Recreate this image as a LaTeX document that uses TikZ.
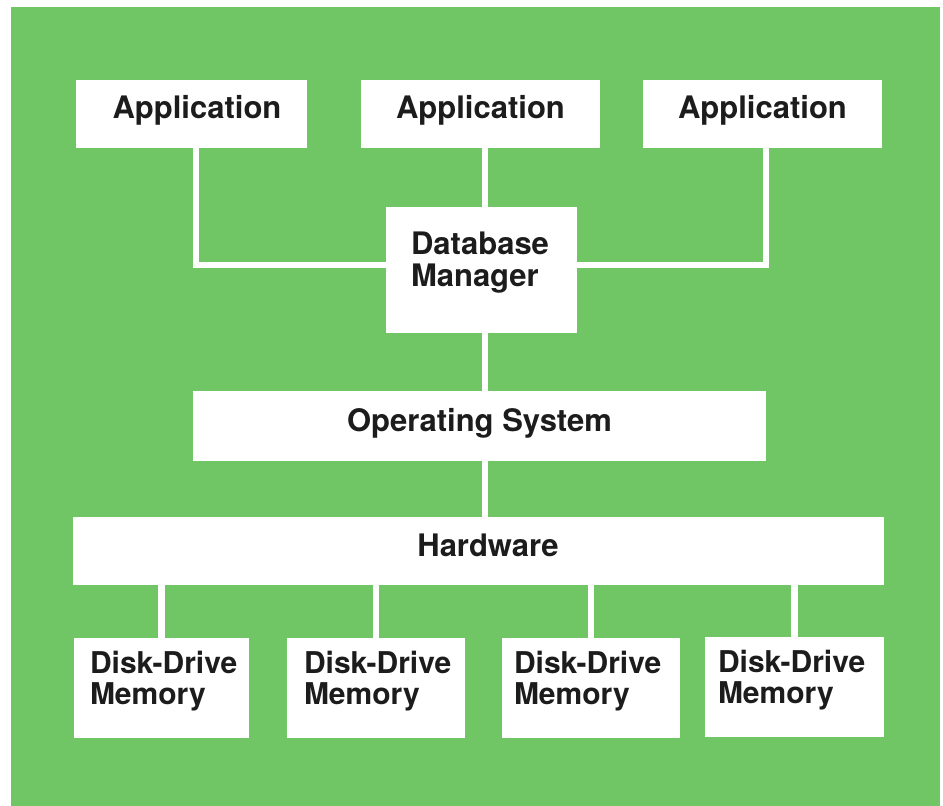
\documentclass[tikz,border=0pt]{standalone}
\usepackage{fontspec}
\setmainfont{TeX Gyre Heros}
\definecolor{bggreen}{RGB}{112,198,100}
\definecolor{ink}{RGB}{28,28,28}
\begin{document}
\begin{tikzpicture}[x=1pt,y=1pt,
  box/.style={fill=white, draw=none, inner sep=0pt, text=ink,
    font=\fontsize{31}{32}\selectfont\bfseries, text height=22pt, text depth=12pt},
  cbox/.style 2 args={box, minimum width=#1, minimum height=#2},
  lbox/.style n args={3}{box, align=left, text width=#1-2*#3, inner xsep=#3, minimum height=#2, text depth=52pt},
  dbox/.style 2 args={lbox={#1}{100pt}{#2}, font=\fontsize{30}{31}\selectfont\bfseries, text depth=50pt},
  conn/.style={draw=white, line width=6.5pt, line join=miter}]
\useasboundingbox (0,0) rectangle (943,806);
\fill[white] (0,0) rectangle (943,806);
\fill[bggreen] (11,0) rectangle (940,799);

% boxes
\node[cbox={231pt}{68pt}] (app1) at (191.5,692) {\hspace*{11pt}Application};
\node[cbox={239pt}{68pt}] (app2) at (480.5,692) {Application};
\node[cbox={239pt}{68pt}] (app3) at (762.5,692) {Application};
\node[lbox={191pt}{126pt}{25pt}] (db) at (481.5,536) {\mbox{Database}\\\mbox{Manager}};
\node[cbox={573pt}{70pt}, text depth=10pt] (os) at (479.5,380) {Operating System};
\node[cbox={811pt}{68pt}, text depth=10pt] (hw) at (478.5,255) {\hspace*{19pt}Hardware};
\node[dbox={175pt}{16pt}] (d1) at (161.5,118) {\mbox{Disk-Drive}\\\mbox{Memory}};
\node[dbox={178pt}{17pt}] (d2) at (376,118) {\mbox{Disk-Drive}\\\mbox{Memory}};
\node[dbox={178pt}{12pt}] (d3) at (591,118) {\mbox{Disk-Drive}\\\mbox{Memory}};
\node[dbox={179pt}{13pt}] (d4) at (794.5,119) {\mbox{Disk-Drive}\\\mbox{Memory}};

% connector geometry
\coordinate (cx) at (485,0);
\coordinate (jl) at (196,541);
\coordinate (jr) at (766,541);

% connectors
\draw[conn] (app2.south -| cx) -- (db.north -| cx);
\draw[conn] (app1.south -| jl) -- (jl) -- (jl -| db.west);
\draw[conn] (app3.south -| jr) -- (jr) -- (jr -| db.east);
\draw[conn] (db.south -| cx) -- (os.north -| cx);
\draw[conn] (os.south -| cx) -- (hw.north -| cx);
\draw[conn] (d1.north) -- (d1.north |- hw.south);
\draw[conn] (d2.north) -- (d2.north |- hw.south);
\draw[conn] (d3.north) -- (d3.north |- hw.south);
\draw[conn] (d4.north) -- (d4.north |- hw.south);
\end{tikzpicture}
\end{document}
